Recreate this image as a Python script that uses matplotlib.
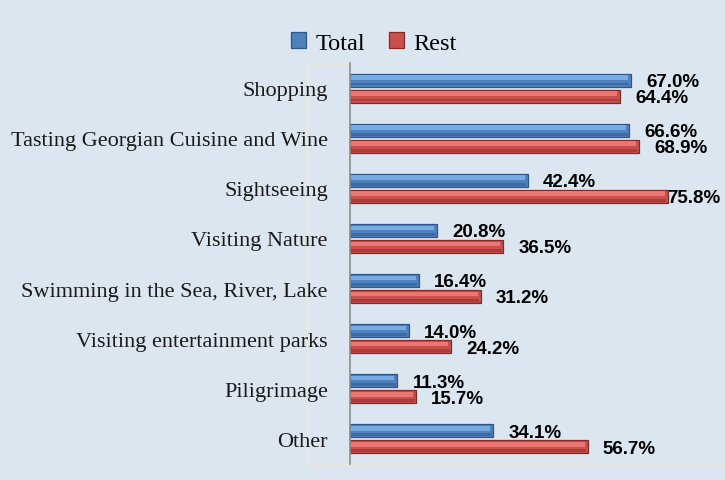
import numpy as np
import matplotlib.pyplot as plt
from matplotlib.patches import Rectangle

# ========== DATA ==========
categories = ['Shopping', 'Tasting Georgian Cuisine and Wine', 'Sightseeing',
              'Visiting Nature', 'Swimming in the Sea, River, Lake',
              'Visiting entertainment parks', 'Piligrimage', 'Other']
total = [67.0, 66.6, 42.4, 20.8, 16.4, 14.0, 11.3, 34.1]
rest = [64.4, 68.9, 75.8, 36.5, 31.2, 24.2, 15.7, 56.7]

bg = '#dce6f1'
blue = ('#4f81bd', '#80b2ec', '#2c5688', '#3b6aa3')   # main, highlight, edge, shade
red = ('#c9504d', '#f27e7a', '#862826', '#a83a37')

fig = plt.figure(figsize=(7.25, 4.81), dpi=100, facecolor=bg)
ax = fig.add_axes([350 / 725, 1 - 465 / 481, 375 / 725, 401 / 481])
ax.set_facecolor(bg)

# plot area border (faint, under the labels)
fig.patches.append(Rectangle((308 / 725, 1 - 465 / 481), 416 / 725, 400 / 481,
                             transform=fig.transFigure, fill=False,
                             edgecolor='#efeadb', linewidth=1.2, zorder=-1))

y = np.arange(len(categories))
h = 0.26
off = 0.16

def bevel_bars(ypos, vals, col, label):
    bars = ax.barh(ypos, vals, height=h, color=col[0], edgecolor=col[2],
                   linewidth=0.9, label=label, zorder=2)
    vals = np.array(vals)
    # glossy top stripe and darker bottom stripe
    ax.barh(ypos - h * 0.2, vals - 0.9, left=0.2, height=h * 0.35,
            color=col[1], linewidth=0, alpha=0.85, zorder=3)
    ax.barh(ypos + h * 0.3, vals - 0.5, left=0.2, height=h * 0.22,
            color=col[3], linewidth=0, alpha=0.9, zorder=3)
    return bars

bt = bevel_bars(y - off, total, blue, 'Total')
br = bevel_bars(y + off, rest, red, 'Rest')

for yy, vals in ((y - off, total), (y + off, rest)):
    for yi, v in zip(yy, vals):
        dx = 0 if v > 70 else 11
        ax.annotate(f'{v:.1f}%', (v, yi), xytext=(dx, -1), textcoords='offset points',
                    ha='left', va='center', fontsize=13.5, fontweight='bold',
                    family='Liberation Sans', color='black')

ax.set_xlim(0, 89.5)
ax.set_ylim(len(categories) - 0.5, -0.5)
ax.set_yticks(y)
ax.set_yticklabels(categories, family='Liberation Serif', fontsize=16, color='#1a1a1a')
ax.tick_params(axis='y', length=0, pad=16)
ax.set_xticks([])
for s in ['top', 'right', 'bottom']:
    ax.spines[s].set_visible(False)
ax.spines['left'].set_color('#8c8c8c')
ax.spines['left'].set_linewidth(1.2)

fig.legend(handles=[bt, br], labels=['Total', 'Rest'], loc='center',
           bbox_to_anchor=(374 / 725, 1 - 44 / 481), ncol=2, frameon=False,
           prop={'family': 'Liberation Serif', 'size': 17.5}, handlelength=0.6,
           handleheight=0.6, handletextpad=0.4, columnspacing=1.0)

fig.savefig('out.png', dpi=100, facecolor=bg)
